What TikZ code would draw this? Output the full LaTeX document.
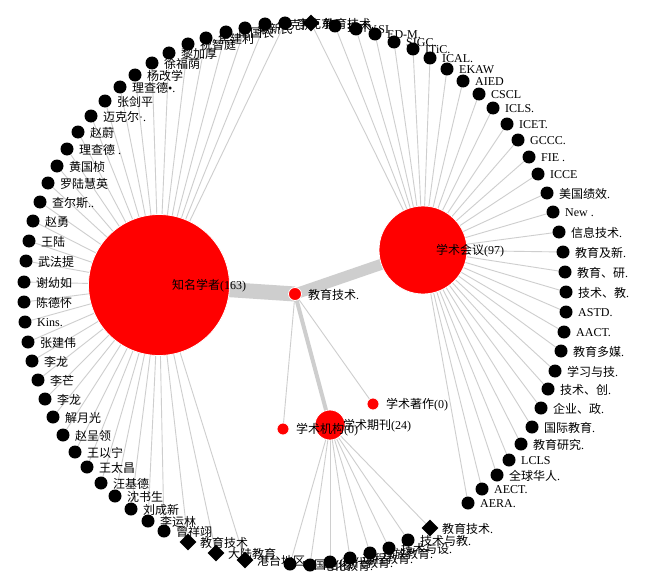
\documentclass[tikz,border=0pt]{standalone}
\usepackage{fontspec}
\setmainfont{Liberation Serif}
\newfontfamily\cjk{Noto Sans CJK SC}
\usetikzlibrary{shapes.geometric}
\pgfdeclarelayer{bgfill}
\pgfdeclarelayer{links}
\pgfsetlayers{bgfill,links,main}
\definecolor{lk}{RGB}{206,206,206}
\definecolor{hubred}{RGB}{255,0,0}
\def\Llist{285/23/{\cjk 李克东},265/24/{\cjk 何克抗},245/28/{\cjk 桑新民},226/32/{\cjk 南国农},206/38/{\cjk 焦建利},188/44/{\cjk 祝智庭},169/53/{\cjk 黎加厚},152/63/{\cjk 徐福荫},135/75/{\cjk 杨改学},120/87/{{\cjk 理查德}•.},105/101/{\cjk 张剑平},91/116/{{\cjk 迈克尔}·.},78/132/{\cjk 赵蔚},67/149/{{\cjk 理查德} .},57/166/{\cjk 黄国桢},48/183/{\cjk 罗陆慧英},40/202/{{\cjk 查尔斯}..},33/221/{\cjk 赵勇},29/241/{\cjk 王陆},26/261/{\cjk 武法提},24/282/{\cjk 谢幼如},24/302/{\cjk 陈德怀},25/322/{Kins.},28/342/{\cjk 张建伟},32/361/{\cjk 李龙},38/380/{\cjk 李芒},45/399/{\cjk 李龙},53/417/{\cjk 解月光},63/435/{\cjk 赵呈领},75/452/{\cjk 王以宁},87/467/{\cjk 王太昌},101/483/{\cjk 汪基德},115/496/{\cjk 沈书生},131/509/{\cjk 刘成新},148/521/{\cjk 李运林},164/531/{\cjk 曾祥翊}}
\def\Rlist{335/26/{{\cjk 技术}.},356/29/{V.SI},375/34/{ED-M.},394/42/{SIGC.},413/49/{ITiC.},430/58/{ICAL.},447/69/{EKAW},463/81/{AIED},479/94/{CSCL},493/108/{ICLS.},507/124/{ICET.},518/140/{GCCC.},529/157/{FIE .},538/174/{ICCE},547/193/{{\cjk 美国绩效}.},553/212/{New .},559/232/{{\cjk 信息技术}.},563/252/{{\cjk 教育及新}.},565/272/{{\cjk 教育、研}.},566/292/{{\cjk 技术、教}.},566/312/{ASTD.},564/332/{AACT.},561/351/{{\cjk 教育多媒}.},555/371/{{\cjk 学习与技}.},548/389/{{\cjk 技术、创}.},541/408/{{\cjk 企业、政}.},532/427/{{\cjk 国际教育}.},521/444/{{\cjk 教育研究}.},509/460/{LCLS},497/475/{{\cjk 全球华人}.},482/489/{AECT.},468/503/{AERA.}}
\def\Blist{290/564/{{\cjk 中国电化}.},310/565/{{\cjk 电化教育}.},330/562/{{\cjk 现代教育}.},350/558/{{\cjk 远程教育}.},370/553/{{\cjk 开放教育}.},389/548/{{\cjk 技术与设}.},408/540/{{\cjk 技术与教}.}}
\def\Dlist{311/23/{{\cjk 教育技术}.}/B,188/542/{\cjk 教育技术}/A,216/553/{\cjk 大陆教育}/A,245/560/{\cjk 港台地区}/A,430/528/{{\cjk 教育技术}.}/C}
\begin{document}
\begin{tikzpicture}[x=1pt,y=-1pt,
  leaf/.style={circle,fill=black,inner sep=0pt,minimum size=13pt},
  dia/.style={diamond,fill=black,inner sep=0pt,minimum size=17pt},
  hub/.style={circle,fill=hubred,draw=white,line width=0.8pt,inner sep=0pt},
  lnk/.style={draw=lk,line width=0.9pt},
  lbl/.style={anchor=west,inner sep=0pt,font=\fontsize{12}{14}\selectfont}]
\useasboundingbox (0,0) rectangle (664,578);
\begin{pgfonlayer}{bgfill}
\fill[white] (0,0) rectangle (664,578);
\end{pgfonlayer}
% hubs
\node[hub,minimum size=141pt] (A) at (159,285) {};
\node[hub,minimum size=88pt] (B) at (423,250) {};
\node[hub,minimum size=30pt] (C) at (330,425) {};
\node[hub,minimum size=13pt] (D) at (295,294) {};
\node[hub,minimum size=12pt] (E) at (373,404) {};
\node[hub,minimum size=12pt] (F) at (283,429) {};
\node[lbl] (tA) at (172,286) {{\cjk 知名学者}(163)};
\node[lbl] (tB) at (436,251) {{\cjk 学术会议}(97)};
\node[lbl] (tC) at (343,426) {{\cjk 学术期刊}(24)};
\node[lbl] (tD) at (308,295) {{\cjk 教育技术}.};
\node[lbl] (tE) at (386,405) {{\cjk 学术著作}(0)};
\node[lbl] (tF) at (296,430) {{\cjk 学术机构}(0)};
% leaves
\foreach \x/\y/\t [count=\i] in \Llist {
  \node[leaf] (l\i) at (\x,\y) {};
  \node[lbl] (lt\i) at (\x+12,\y+1) {\t};
}
\foreach \x/\y/\t [count=\i] in \Rlist {
  \node[leaf] (r\i) at (\x,\y) {};
  \node[lbl] (rt\i) at (\x+12,\y+1) {\t};
}
\foreach \x/\y/\t [count=\i] in \Blist {
  \node[leaf] (b\i) at (\x,\y) {};
  \node[lbl] (bt\i) at (\x+12,\y+1) {\t};
}
\foreach \x/\y/\t/\h [count=\i] in \Dlist {
  \node[dia] (d\i) at (\x,\y) {};
  \node[lbl] (dt\i) at (\x+12,\y+1) {\t};
}
% links
\begin{pgfonlayer}{links}
\foreach \x/\y/\t [count=\i] in \Llist {\draw[lnk] (l\i.center) -- (A.center);}
\foreach \x/\y/\t [count=\i] in \Rlist {\draw[lnk] (r\i.center) -- (B.center);}
\foreach \x/\y/\t [count=\i] in \Blist {\draw[lnk] (b\i.center) -- (C.center);}
\foreach \x/\y/\t/\h [count=\i] in \Dlist {\draw[lnk] (d\i.center) -- (\h.center);}
\draw[lk,line width=15pt] (D.center) -- (A.center);
\draw[lk,line width=11pt] (D.center) -- (B.center);
\draw[lk,line width=4pt] (D.center) -- (C.center);
\draw[lnk] (D.center) -- (E.center);
\draw[lnk] (D.center) -- (F.center);
\end{pgfonlayer}
\end{tikzpicture}
\end{document}
